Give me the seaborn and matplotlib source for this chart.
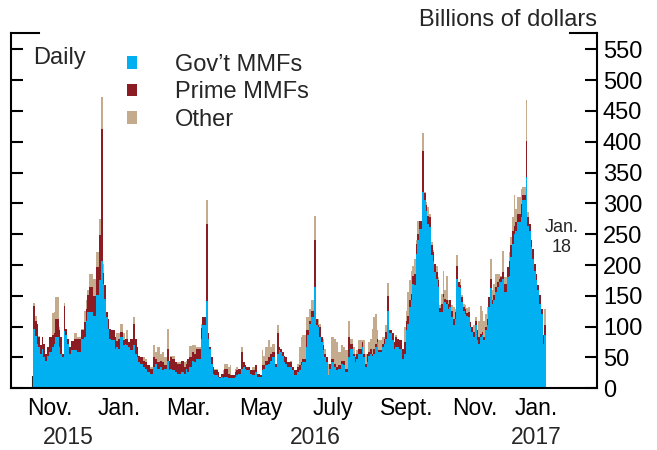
import matplotlib
matplotlib.use("Agg")
import matplotlib.pyplot as plt
import matplotlib.transforms as mtransforms
from matplotlib.patches import Patch
import numpy as np
import pandas as pd
import seaborn as sns
from pandas.tseries.holiday import USFederalHolidayCalendar

# Data, billions of dollars; each value holds until the next date
dates = [
    "2015-11-02", "2015-11-03", "2015-11-04", "2015-11-05", "2015-11-06", "2015-11-09", "2015-11-10", "2015-11-12",
    "2015-11-13", "2015-11-16", "2015-11-18", "2015-11-19", "2015-11-20", "2015-11-24", "2015-11-25", "2015-11-27", "2015-11-30",
    "2015-12-01", "2015-12-02", "2015-12-03", "2015-12-04", "2015-12-08", "2015-12-10", "2015-12-14", "2015-12-16",
    "2015-12-17", "2015-12-18", "2015-12-21", "2015-12-23", "2015-12-28", "2015-12-30", "2015-12-31",
    "2016-01-04", "2016-01-05", "2016-01-06", "2016-01-07", "2016-01-08", "2016-01-11", "2016-01-13", "2016-01-14",
    "2016-01-15", "2016-01-19", "2016-01-21", "2016-01-22", "2016-01-25", "2016-01-26", "2016-01-27", "2016-01-29",
    "2016-02-01", "2016-02-02", "2016-02-03", "2016-02-04", "2016-02-08", "2016-02-09", "2016-02-10", "2016-02-12",
    "2016-02-17", "2016-02-18", "2016-02-19", "2016-02-23", "2016-02-24", "2016-02-25", "2016-02-29",
    "2016-03-01", "2016-03-02", "2016-03-03", "2016-03-07", "2016-03-08", "2016-03-10", "2016-03-14", "2016-03-15",
    "2016-03-16", "2016-03-17", "2016-03-21", "2016-03-22", "2016-03-23", "2016-03-28", "2016-03-29", "2016-03-31",
    "2016-04-01", "2016-04-04", "2016-04-05", "2016-04-06", "2016-04-07", "2016-04-11", "2016-04-12", "2016-04-13",
    "2016-04-14", "2016-04-15", "2016-04-19", "2016-04-20", "2016-04-21", "2016-04-25", "2016-04-26", "2016-04-27", "2016-04-29",
    "2016-05-02", "2016-05-03", "2016-05-04", "2016-05-06", "2016-05-09", "2016-05-11", "2016-05-12", "2016-05-16",
    "2016-05-17", "2016-05-18", "2016-05-19", "2016-05-23", "2016-05-24", "2016-05-25", "2016-05-27", "2016-05-31",
    "2016-06-01", "2016-06-02", "2016-06-03", "2016-06-06", "2016-06-07", "2016-06-08", "2016-06-10", "2016-06-13", "2016-06-14",
    "2016-06-16", "2016-06-17", "2016-06-20", "2016-06-21", "2016-06-23", "2016-06-24", "2016-06-27", "2016-06-28", "2016-06-30",
    "2016-07-01", "2016-07-05", "2016-07-06", "2016-07-07", "2016-07-08", "2016-07-11", "2016-07-12", "2016-07-13",
    "2016-07-14", "2016-07-15", "2016-07-19", "2016-07-20", "2016-07-21", "2016-07-25", "2016-07-26", "2016-07-27", "2016-07-29",
    "2016-08-01", "2016-08-03", "2016-08-04", "2016-08-05", "2016-08-08", "2016-08-10", "2016-08-11", "2016-08-12", "2016-08-15",
    "2016-08-16", "2016-08-17", "2016-08-18", "2016-08-19", "2016-08-22", "2016-08-23", "2016-08-24", "2016-08-26", "2016-08-29",
    "2016-08-30", "2016-08-31",
    "2016-09-01", "2016-09-06", "2016-09-07", "2016-09-08", "2016-09-09", "2016-09-12", "2016-09-14", "2016-09-15", "2016-09-16",
    "2016-09-19", "2016-09-20", "2016-09-21", "2016-09-22", "2016-09-23", "2016-09-26", "2016-09-27", "2016-09-28", "2016-09-30",
    "2016-10-03", "2016-10-04", "2016-10-05", "2016-10-06", "2016-10-07", "2016-10-11", "2016-10-12", "2016-10-13", "2016-10-14",
    "2016-10-17", "2016-10-18", "2016-10-19", "2016-10-20", "2016-10-21", "2016-10-24", "2016-10-25", "2016-10-26", "2016-10-27",
    "2016-10-28", "2016-10-31",
    "2016-11-01", "2016-11-02", "2016-11-03", "2016-11-04", "2016-11-07", "2016-11-08", "2016-11-09", "2016-11-10", "2016-11-14",
    "2016-11-15", "2016-11-16", "2016-11-17", "2016-11-18", "2016-11-21", "2016-11-22", "2016-11-23", "2016-11-25", "2016-11-28",
    "2016-11-29", "2016-11-30",
    "2016-12-01", "2016-12-02", "2016-12-05", "2016-12-06", "2016-12-07", "2016-12-08", "2016-12-09", "2016-12-12", "2016-12-14",
    "2016-12-15", "2016-12-16", "2016-12-19", "2016-12-20", "2016-12-21", "2016-12-22", "2016-12-27", "2016-12-28", "2016-12-30",
    "2017-01-03", "2017-01-04", "2017-01-05", "2017-01-06", "2017-01-09", "2017-01-10", "2017-01-11", "2017-01-12", "2017-01-13",
    "2017-01-17", "2017-01-18",
]

govt = [
    97, 85, 72, 67, 56, 64, 51, 45, 53, 59, 67, 72, 83, 67, 56, 50, 93,
    86, 72, 56, 62, 62, 59, 80, 83, 109, 124, 124, 117, 151, 175, 207,
    170, 145, 116, 97, 80, 78, 64, 67, 64, 83, 70, 72, 70, 67, 62, 70,
    56, 51, 43, 40, 35, 32, 26, 24, 35, 40, 32, 35, 29, 32, 45,
    29, 32, 29, 26, 24, 26, 24, 32, 26, 35, 45, 43, 48, 80, 102, 142,
    80, 64, 40, 24, 21, 18, 16, 18, 16, 18, 16, 16, 16, 18, 21, 24, 32,
    35, 32, 29, 24, 21, 26, 18, 18, 29, 32, 37, 40, 45, 51, 35, 56,
    62, 59, 53, 43, 40, 35, 35, 29, 21, 26, 29, 37, 43, 67, 86, 105, 116, 165,
    102, 100, 83, 75, 62, 51, 43, 21, 32, 43, 35, 29, 32, 40, 37, 26, 51,
    64, 53, 43, 48, 56, 67, 51, 35, 43, 53, 56, 53, 56, 67, 75, 59, 67, 72, 80, 126,
    89, 79, 64, 67, 67, 64, 48, 56, 94, 105, 132, 143, 170, 167, 218, 240, 259, 319,
    305, 288, 267, 261, 216, 207, 189, 178, 164, 124, 124, 148, 140, 137, 129, 132, 116, 102, 113, 178,
    164, 162, 140, 126, 121, 118, 116, 99, 91, 83, 102, 78, 72, 83, 86, 78, 94, 102, 132, 162,
    137, 143, 156, 164, 172, 172, 178, 156, 181, 183, 213, 234, 251, 256, 270, 278, 305, 343,
    264, 256, 229, 210, 191, 175, 159, 137, 121, 72, 86,
]

prime = [
    36, 25, 33, 16, 14, 19, 21, 11, 14, 24, 19, 17, 30, 27, 27, 5, 40,
    11, 8, 11, 15, 18, 21, 14, 25, 20, 27, 40, 32, 46, 73, 214,
    17, 22, 8, 16, 17, 16, 19, 10, 16, 8, 8, 8, 10, 8, 18, 35,
    24, 16, 10, 11, 10, 11, 11, 8, 16, 8, 11, 10, 14, 5, 19,
    16, 19, 19, 17, 16, 19, 11, 8, 22, 16, 14, 13, 16, 18, 14, 125,
    9, 3, 11, 11, 8, 8, 3, 6, 8, 14, 8, 5, 5, 8, 8, 8, 27,
    8, 5, 6, 5, 8, 11, 6, 3, 8, 5, 8, 11, 11, 8, 5, 33,
    5, 5, 6, 10, 11, 8, 8, 6, 8, 9, 8, 6, 5, 27, 8, 5, 10, 76,
    11, 2, 17, 8, 8, 5, 8, 0, 8, 5, 5, 6, 5, 5, 8, 6, 32,
    8, 3, 8, 8, 8, 8, 5, 5, 13, 6, 8, 3, 8, 5, 5, 3, 5, 8, 11, 23,
    6, 11, 11, 16, 13, 14, 16, 19, 16, 13, 11, 10, 13, 18, 16, 11, 13, 66,
    12, 9, 13, 17, 16, 14, 13, 11, 11, 7, 13, 5, 5, 6, 8, 11, 10, 11, 11, 20,
    8, 5, 8, 6, 8, 4, 8, 9, 8, 8, 8, 16, 11, 5, 5, 5, 5, 11, 16, 16,
    6, 8, 8, 8, 6, 8, 11, 14, 16, 24, 19, 22, 13, 14, 13, 21, 8, 59,
    14, 11, 11, 16, 11, 11, 8, 14, 8, 14, 16,
]

other = [
    5, 8, 0, 2, 0, 0, 0, 0, 0, 1, 36, 35, 35, 5, 1, 0, 6,
    0, 0, 0, 0, 9, 3, 3, 18, 14, 8, 21, 29, 24, 27, 52,
    14, 0, 0, 0, 0, 0, 0, 12, 9, 14, 11, 0, 14, 0, 0, 11,
    0, 0, 0, 0, 6, 5, 0, 3, 19, 11, 24, 11, 16, 14, 33,
    0, 2, 5, 0, 3, 0, 8, 5, 0, 17, 11, 14, 3, 7, 0, 38,
    0, 0, 0, 0, 3, 0, 0, 0, 5, 8, 11, 16, 0, 6, 6, 0, 8,
    0, 0, 0, 0, 6, 0, 0, 0, 25, 16, 22, 27, 11, 13, 0, 13,
    0, 0, 0, 0, 0, 0, 2, 0, 0, 5, 30, 40, 38, 22, 22, 19, 17, 38,
    0, 11, 5, 0, 10, 8, 0, 19, 0, 35, 40, 40, 22, 25, 22, 30, 27,
    8, 11, 5, 6, 14, 4, 22, 16, 0, 16, 16, 41, 52, 49, 14, 16, 11, 3, 11, 22,
    0, 0, 0, 3, 0, 0, 0, 24, 16, 38, 32, 38, 16, 25, 6, 21, 0, 29,
    1, 5, 14, 5, 5, 3, 0, 10, 5, 4, 16, 38, 14, 40, 6, 0, 9, 19, 5, 18,
    0, 10, 3, 5, 6, 9, 8, 0, 0, 11, 6, 0, 27, 46, 35, 27, 22, 19, 0, 31,
    16, 19, 22, 14, 8, 3, 33, 10, 0, 14, 13, 22, 49, 21, 27, 25, 13, 66,
    8, 0, 0, 0, 0, 0, 0, 0, 0, 0, 27,
]

series_names = ["Gov\u2019t MMFs", "Prime MMFs", "Other"]
colors = ["#00B0F0", "#8B1C23", "#C4AB8E"]
month_labels = ["Nov.", "Jan.", "Mar.", "May", "July", "Sept.", "Nov.", "Jan."]
year_labels = ["2015", "2016", "2017"]
yticks = list(range(0, 551, 50))

sns.set_style("white")
plt.rcParams["font.family"] = ["Liberation Sans", "DejaVu Sans"]

# business-day axis: one slot per trading day
bday = pd.offsets.CustomBusinessDay(calendar=USFederalHolidayCalendar())
days = pd.date_range(dates[0], dates[-1], freq=bday)
pos = days.get_indexer(pd.to_datetime(dates))
edges = [float(p) for p in pos] + [float(len(days))]

df = pd.DataFrame({
    "pos": np.tile(pos + 0.5, 3),
    "value": np.concatenate([govt, prime, other]),
    "series": np.repeat(series_names, len(dates)),
})

fig = plt.figure(figsize=(6.57, 4.5), dpi=100)
ax = fig.add_axes([11 / 657, 1 - 388.3 / 450, 586 / 657, 355 / 450])

sns.histplot(data=df, x="pos", weights="value", hue="series",
             hue_order=series_names[::-1], palette=dict(zip(series_names, colors)),
             bins=edges, multiple="stack", element="step", fill=True,
             alpha=1, linewidth=0, legend=False, ax=ax)

ax.set_xlim(-13.2, 333.2)
ax.set_ylim(0, 576)
ax.set_xlabel("")
ax.set_ylabel("")

# spines
for side in ["left", "right", "bottom"]:
    ax.spines[side].set_visible(True)
    ax.spines[side].set_color("black")
    ax.spines[side].set_linewidth(1.5)
ax.spines["top"].set_visible(False)
ax.plot([0, 28 / 586], [1, 1], transform=ax.transAxes, color="black", lw=1.5,
        clip_on=False, solid_capstyle="projecting")
ax.plot([1 - 27 / 586, 1], [1, 1], transform=ax.transAxes, color="black", lw=1.5,
        clip_on=False, solid_capstyle="projecting")

# y axis
ax.set_yticks(yticks)
ax.tick_params(axis="y", left=True, right=True, labelleft=False, labelright=True,
               direction="in", length=8.6, width=1.5, pad=4.3, labelsize=17, colors="black")

# x axis: ticks at month starts, labels at mid-month
month_start = np.flatnonzero(np.r_[True, days.month[1:] != days.month[:-1]])
month_end = np.r_[month_start[1:], len(days)]
ax.set_xticks(month_start)
ax.set_xticklabels([])
ax.tick_params(axis="x", which="major", bottom=True, direction="in", length=8.6, width=1.5)
mid = (month_start + month_end) / 2
ax.set_xticks(mid[::2], minor=True)
ax.set_xticklabels(month_labels, minor=True)
ax.tick_params(axis="x", which="minor", bottom=True, length=0, pad=6.5, labelsize=16.5, colors="black")

trans = mtransforms.blended_transform_factory(ax.transData, fig.transFigure)
for yl in year_labels:
    idx = np.flatnonzero(days.year == int(yl))
    ax.text((idx[0] + idx[-1] + 1) / 2, 1 - 444.5 / 450, yl, transform=trans,
            ha="center", va="baseline", fontsize=16.5)

# texts
fig.text(597 / 657, 1 - 26 / 450, "Billions of dollars", ha="right", va="baseline", fontsize=17)
fig.text(33 / 657, 1 - 64.3 / 450, "Daily", ha="left", va="baseline", fontsize=17)
fig.text(562 / 657, 1 - 231.7 / 450, "Jan.", ha="center", va="baseline", fontsize=13)
fig.text(562 / 657, 1 - 251.7 / 450, "18", ha="center", va="baseline", fontsize=13)

# legend
handles = [Patch(facecolor=c, edgecolor="none") for c in colors]
ax.legend(handles, series_names, loc="upper left", bbox_to_anchor=(127 / 657, 1 - 54 / 450),
          bbox_transform=fig.transFigure, frameon=False, fontsize=17,
          handlelength=0.42, handleheight=0.42, handletextpad=1.61,
          labelspacing=0.23, borderpad=0, borderaxespad=0)

fig.savefig("out.png", dpi=100)
